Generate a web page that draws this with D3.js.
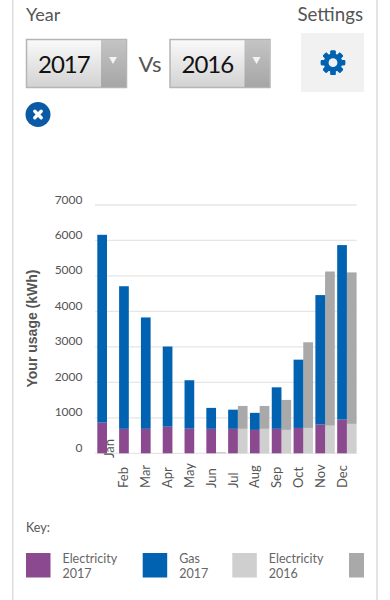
<!DOCTYPE html>
<html><head><meta charset="utf-8">
<script src="https://cdn.jsdelivr.net/npm/d3@7/dist/d3.min.js"></script>
<style>html,body{margin:0;padding:0;background:#fff;overflow:hidden}svg{display:block}text{font-family:Lato,sans-serif}</style>
</head><body><svg id="c" width="390" height="600"></svg>
<script>
const months=["Jan","Feb","Mar","Apr","May","Jun","Jul","Aug","Sep","Oct","Nov","Dec"];
const elec2017=[865,690,690,750,695,690,690,660,690,715,810,950];
const gas2017=[5295,4020,3140,2260,1365,590,540,480,1170,1925,3650,4920];
const elec2016=[0,0,0,0,0,40,690,690,660,715,780,830];
const gas2016=[0,0,0,0,0,0,645,645,845,2415,4345,4270];
const yTicks=[0,1000,2000,3000,4000,5000,6000,7000];
const legendItems=[["Electricity","2017","#8b4a8f"],["Gas","2017","#0062b1"],["Electricity","2016","#cfcfcf"],["","","#a9a9a9"]];
const svg=d3.select("#c");
const defs=svg.append("defs");
const g1=defs.append("linearGradient").attr("id","sel").attr("x2",0).attr("y2",1);
g1.append("stop").attr("offset",0).attr("stop-color","#fafafa");g1.append("stop").attr("offset",1).attr("stop-color","#d2d2d2");
const g2=defs.append("linearGradient").attr("id","arr").attr("x2",0).attr("y2",1);
g2.append("stop").attr("offset",0).attr("stop-color","#c4c4c4");g2.append("stop").attr("offset",1).attr("stop-color","#a6a6a6");
// page frame
svg.append("line").attr("x1",12.7).attr("x2",12.7).attr("y1",0).attr("y2",600).attr("stroke","#d9dcdf").attr("stroke-width",1.5);
svg.append("line").attr("x1",377).attr("x2",377).attr("y1",0).attr("y2",600).attr("stroke","#d9dcdf").attr("stroke-width",1.5);
// header
svg.append("text").attr("x",26).attr("y",21).attr("font-size",18).attr("fill","#555").text("Year");
svg.append("text").attr("x",363).attr("y",21).attr("text-anchor","end").attr("font-size",18.7).attr("fill","#555").text("Settings");
function select(x,label){
  const g=svg.append("g").attr("transform",`translate(${x},39)`);
  g.append("rect").attr("x",.5).attr("y",.5).attr("width",100).attr("height",48).attr("fill","url(#sel)").attr("stroke","#b5b5b5").attr("stroke-width",1.5);
  g.append("rect").attr("x",75).attr("y",1).attr("width",25).attr("height",47).attr("fill","url(#arr)");
  g.append("path").attr("d","M83 18h8l-4 7z").attr("fill","#f4f4f4");
  g.append("text").attr("x",12).attr("y",34).attr("font-size",24).attr("letter-spacing",-1).attr("fill","#111").text(label);
}
select(26,"2017");select(169.5,"2016");
svg.append("text").attr("x",138.5).attr("y",72).attr("font-size",22).attr("fill","#555").text("Vs");
svg.append("rect").attr("x",301).attr("y",33).attr("width",63).attr("height",59).attr("fill","#f1f1f1");
const gear=svg.append("g").attr("transform","translate(333,62.7)");
d3.range(8).forEach(i=>gear.append("rect").attr("x",-2.6).attr("y",-12.2).attr("width",5.2).attr("height",24.4).attr("rx",1).attr("fill","#0062b1").attr("transform",`rotate(${i*45})`));
gear.append("circle").attr("r",9.3).attr("fill","#0062b1");
gear.append("circle").attr("r",4.4).attr("fill","#f1f1f1");
const cl=svg.append("g").attr("transform","translate(38,114.5)");
cl.append("circle").attr("r",12.5).attr("fill","#0a5aa6");
cl.append("path").attr("d","M-3.2 -3.2L3.2 3.2M3.2 -3.2L-3.2 3.2").attr("stroke","#fff").attr("stroke-width",3.4).attr("stroke-linecap","round");
// chart
const y=d3.scaleLinear().domain([0,7000]).range([453.3,205]);
const x=d3.scaleBand().domain(months).range([97.3,359]);
const bw=9.7;
const chart=svg.append("g");
chart.selectAll("line.g").data(yTicks).join("line").attr("class","g").attr("x1",95).attr("x2",356.7)
 .attr("y1",d=>y(d)).attr("y2",d=>y(d)).attr("stroke","#e6e6e6").attr("stroke-width",1.3);
chart.selectAll("text.yt").data(yTicks).join("text").attr("class","yt").attr("x",82.5).attr("y",d=>y(d)-1.5)
 .attr("text-anchor","end").attr("font-size",12).attr("fill","#555").text(d=>d);
chart.append("text").attr("transform","translate(36.5,328.5) rotate(-90)").attr("text-anchor","middle")
 .style("font-family","'Liberation Sans',sans-serif").attr("font-weight","bold").attr("font-size",14).attr("fill","#555").text("Your usage (kWh)");
function bars(vals,base,off,col){
  chart.selectAll(null).data(months).join("rect").attr("x",d=>x(d)+off).attr("width",bw)
   .attr("y",(d,i)=>y(base[i]+vals[i])).attr("height",(d,i)=>y(base[i])-y(base[i]+vals[i])).attr("fill",col);
}
const zero=months.map(()=>0);
bars(elec2016,zero,bw,legendItems[2][2]);
bars(gas2016,elec2016,bw,legendItems[3][2]);
bars(elec2017,zero,0,legendItems[0][2]);
bars(gas2017,elec2017,0,legendItems[1][2]);
chart.selectAll("text.m").data(months).join("text").attr("class","m")
 .attr("transform",(d,i)=>i===0?`translate(${x(d)+bw+7},458) rotate(-90)`:`translate(${x(d)+bw/2+4.5},488) rotate(-90)`)
 .attr("font-size",13).attr("fill","#555").text(d=>d);
// legend
svg.append("text").attr("x",26).attr("y",532).attr("font-size",12.5).attr("fill","#555").text("Key:");
const lx=[26,142.7,232.3,349];
legendItems.forEach((it,i)=>{
  svg.append("rect").attr("x",lx[i]).attr("y",553).attr("width",i===3?15:24.5).attr("height",24.5).attr("fill",it[2]);
  if(it[0]){
    svg.append("text").attr("x",lx[i]+36.5).attr("y",563).attr("font-size",12.5).attr("fill","#666").text(it[0]);
    svg.append("text").attr("x",lx[i]+36.5).attr("y",578).attr("font-size",12.5).attr("fill","#666").text(it[1]);
  }
});
</script></body></html>
